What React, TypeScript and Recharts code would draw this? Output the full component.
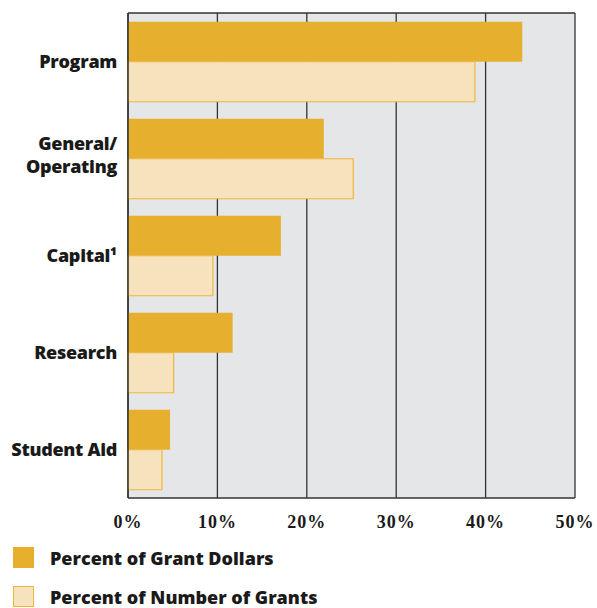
import { BarChart, Bar, CartesianGrid, Legend, XAxis, YAxis } from 'recharts';

const categories = ['Program', 'General/\nOperating', 'Capital¹', 'Research', 'Student Aid'];
const grantDollars = [44.1, 21.9, 17.1, 11.7, 4.7];
const numberOfGrants = [38.8, 25.2, 9.5, 5.1, 3.8];
const xTicks = [0, 10, 20, 30, 40, 50];

const DOLLARS = '#E6AF2E';
const COUNT_FILL = '#F7E2BE';
const COUNT_STROKE = '#EDB73F';
const SANS = '"Open Sans", Lato, sans-serif';

const data = categories.map((name, i) => ({
  name,
  dollars: grantDollars[i],
  count: numberOfGrants[i],
}));

function CategoryTick({ x, y, payload }: any) {
  const lines = String(payload.value).split('\n');
  const lh = 23;
  // multi-line labels sit a touch higher in the original
  const start = lines.length > 1 ? -((lines.length - 1) * lh) / 2 - 3 : 0;
  return (
    <text x={x} y={y} textAnchor="end" fill="#1a1a1a" fontFamily={SANS} fontWeight={800} fontSize={18} letterSpacing={-0.3}>
      {lines.map((l, i) => (
        <tspan key={i} x={x} dy={i === 0 ? start + 6 : lh}>
          {l}
        </tspan>
      ))}
    </text>
  );
}

function LegendBox() {
  const items = [
    { label: 'Percent of Grant Dollars', fill: DOLLARS, stroke: DOLLARS },
    { label: 'Percent of Number of Grants', fill: COUNT_FILL, stroke: COUNT_STROKE },
  ];
  return (
    <div>
      {items.map((it) => (
        <div key={it.label} style={{ display: 'flex', alignItems: 'center', height: 39 }}>
          <div
            style={{
              width: 19,
              height: 19,
              marginLeft: 13,
              marginRight: 16,
              background: it.fill,
              border: `1px solid ${it.stroke}`,
            }}
          />
          <span style={{ fontFamily: SANS, fontWeight: 800, fontSize: 18, color: '#1a1a1a' }}>{it.label}</span>
        </div>
      ))}
    </div>
  );
}

export default function App() {
  return (
    <div style={{ position: 'absolute', left: 0, top: 0, width: 597, height: 608, background: '#fff' }}>
      <BarChart
        width={597}
        height={608}
        data={data}
        layout="vertical"
        margin={{ top: 13, right: 22, left: 0, bottom: 0 }}
        barCategoryGap="9%"
        barGap={0}
      >
        <CartesianGrid
          fill="#E5E6E8"
          stroke="#333"
          strokeWidth={1.3}
          horizontalCoordinatesGenerator={({ offset }: any) => [offset.top]}
        />
        <XAxis
          type="number"
          domain={[0, 50]}
          ticks={xTicks}
          tickFormatter={(v) => `${v}%`}
          axisLine={{ stroke: '#333', strokeWidth: 1.5 }}
          tickLine={false}
          tickMargin={11}
          height={110}
          tick={{ fill: '#1a1a1a', fontFamily: '"Liberation Serif", serif', fontWeight: 700, fontSize: 18, letterSpacing: 1 }}
        />
        <YAxis
          type="category"
          dataKey="name"
          width={128}
          axisLine={{ stroke: '#333', strokeWidth: 1.5 }}
          tickLine={false}
          tickMargin={5}
          tick={<CategoryTick />}
        />
        <Legend
          layout="horizontal"
          verticalAlign="middle"
          content={<LegendBox />}
          wrapperStyle={{ top: 538, left: 0, width: 597 }}
        />
        <Bar dataKey="dollars" name="Percent of Grant Dollars" fill={DOLLARS} isAnimationActive={false} />
        <Bar
          dataKey="count"
          name="Percent of Number of Grants"
          fill={COUNT_FILL}
          stroke={COUNT_STROKE}
          strokeWidth={1.2}
          isAnimationActive={false}
        />
      </BarChart>
    </div>
  );
}
